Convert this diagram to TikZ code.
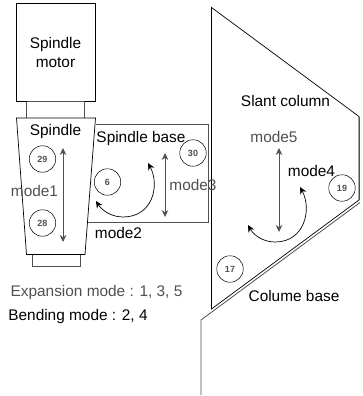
\documentclass[tikz,border=0pt]{standalone}
\usepackage{fontspec}
\setmainfont{Liberation Sans}
\usetikzlibrary{arrows.meta}
\definecolor{greytext}{HTML}{505050}
\definecolor{greyline}{HTML}{505050}
\tikzset{
  part/.style={draw=black,line width=0.7pt},
  partgrey/.style={draw=greyline,line width=0.8pt},
  lbl/.style={font=\fontsize{15.4}{19}\selectfont,inner sep=0pt,align=center,text=black},
  lblgrey/.style={lbl,text=greytext},
  tag/.style={draw=black,line width=0.5pt,circle,minimum size=26.5pt,inner sep=0pt,font=\fontsize{9}{10}\selectfont\bfseries,text=greytext},
  updown/.style={draw=greyline,line width=0.8pt,{Stealth[length=7pt,width=6.5pt]}-{Stealth[length=7pt,width=6.5pt]}},
  bendarrow/.style={draw=black,line width=0.7pt,{Stealth[length=7pt,width=6.5pt]}-{Stealth[length=7pt,width=6.5pt]}}
}
\begin{document}
\begin{tikzpicture}[x=1pt,y=-1pt]
\useasboundingbox (0,0) rectangle (362,396);
% spindle motor and spindle
\draw[part] (16.5,3.5) rectangle (95.5,101.5);
\draw[partgrey] (26.5,101.5) -- (26.5,118) (84.5,101.5) -- (84.5,118);
\draw[partgrey] (26.5,101.5) -- (84.5,101.5);
\draw[part] (16.5,118) -- (95.5,118) -- (85,254.5) -- (26.5,254.5) -- cycle;
\draw[partgrey] (32,254.5) -- (32,266) -- (80,266) -- (80,254.5);
% spindle base
\draw[partgrey] (95.5,124) -- (208.5,124) -- (208.5,222) -- (88,222);
% slant column
\draw[part] (211.5,7.5) -- (359,116.5) -- (359,200) -- (211.5,309) -- cycle;
\draw[partgrey] (359,116.5) -- (359,200);
% column base
\draw[partgrey] (201,395) -- (201,320) -- (360,202.5);
% labels
\node[lbl] (motor) at (55.5,52) {Spindle\\motor};
\node[lbl] (spindle) at (55.5,132) {Spindle};
\node[lbl] (sbase) at (141,139) {Spindle base};
\node[lblgrey] (m1) at (34.5,191) {mode1};
\node[lbl] (m2) at (118.5,232.5) {mode2};
\node[lblgrey] (m3) at (193,184.5) {mode3};
\node[lbl] (m4) at (311.5,171) {mode4};
\node[lblgrey] (m5) at (274,137) {mode5};
\node[lbl] (slant) at (285.5,100.5) {Slant column};
\node[lbl] (cbase) at (294,295.5) {Colume base};
\node[lblgrey] (exp) at (96.5,292.5) {Expansion mode : 1, 3, 5};
\node[lbl] (bendtxt) at (78,316.5) {Bending mode : 2, 4};
% numbered tags
\node[tag] (t29) at (42.5,159) {29};
\node[tag] (t28) at (42.5,223) {28};
\node[tag] (t6) at (107.5,182) {6};
\node[tag] (t30) at (193,153) {30};
\node[tag] (t19) at (342,188) {19};
\node[tag] (t17) at (230,269) {17};
% modes
\coordinate (m1a) at (63,148); \coordinate (m1b) at (63,242);
\coordinate (m3a) at (165,153); \coordinate (m3b) at (165,217);
\coordinate (m5a) at (279,148); \coordinate (m5b) at (279,232);
\coordinate (m2a) at (148,163); \coordinate (m2b) at (96,201);
\coordinate (m4a) at (300,187); \coordinate (m4b) at (248,225);
\draw[updown] (m1a) -- (m1b);
\draw[updown] (m3a) -- (m3b);
\draw[updown] (m5a) -- (m5b);
\draw[bendarrow] (m2a) .. controls (160,185) and (153,217) .. (123,217) .. controls (110,217) and (101,209) .. (m2b);
\draw[bendarrow] (m4a) .. controls (312,209) and (305,242) .. (275,242) .. controls (262,242) and (253,234) .. (m4b);
\end{tikzpicture}
\end{document}
